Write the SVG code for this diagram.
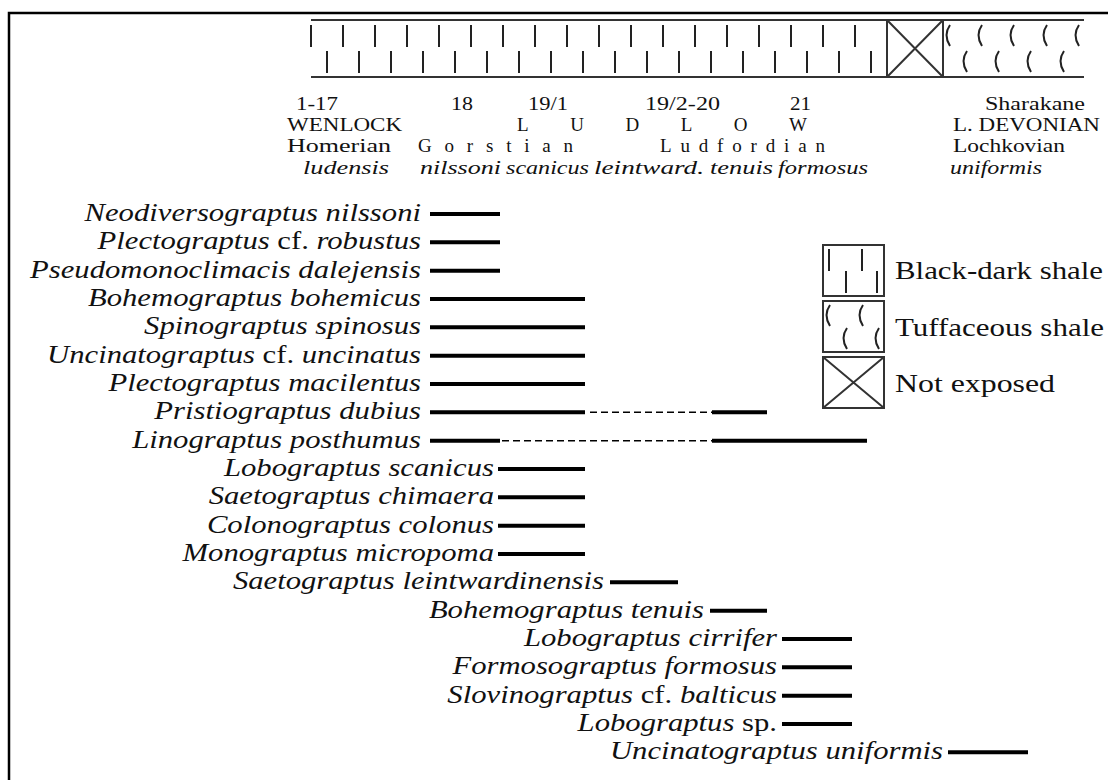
<svg xmlns="http://www.w3.org/2000/svg" width="1108" height="780" viewBox="0 0 1108 780">
<style>
.fr{stroke:#000;stroke-width:2.5;fill:none}
.bl{stroke:#333;stroke-width:2;fill:none}
.tk{stroke:#222;stroke-width:2;fill:none}
.hd{font-family:"Liberation Serif","Times New Roman",serif;font-size:19px;fill:#111}
.hi{font-family:"Liberation Serif","Times New Roman",serif;font-size:19px;font-style:italic;fill:#111}
.sp{font-family:"Liberation Serif","Times New Roman",serif;font-size:26px;font-style:italic;fill:#111;text-anchor:end}
.rm{font-style:normal}
.lg{font-family:"Liberation Serif","Times New Roman",serif;font-size:25px;fill:#111}
.r{stroke:#000;stroke-width:4;fill:none}
.d{stroke:#000;stroke-width:1.5;stroke-dasharray:7 4;fill:none}
</style>
<defs>
<path id="tb" d="M0,0 V22" class="tk"/>
<path id="tf" d="M4,0 Q-3,10 4,21" class="tk"/>
</defs>
<rect width="1108" height="780" fill="#fff"/>
<g id="frame">
<path class="fr" d="M9,780 V13 H1108"/>
</g>
<g id="column">
<path class="bl" d="M311,20 H1084 M311,77 H1084"/>
<g id="black-shale">
<use href="#tb" x="311" y="25"/><use href="#tb" x="343" y="25"/><use href="#tb" x="375" y="25"/><use href="#tb" x="407" y="25"/><use href="#tb" x="439" y="25"/><use href="#tb" x="471" y="25"/><use href="#tb" x="503" y="25"/><use href="#tb" x="535" y="25"/><use href="#tb" x="567" y="25"/><use href="#tb" x="599" y="25"/><use href="#tb" x="631" y="25"/><use href="#tb" x="663" y="25"/><use href="#tb" x="695" y="25"/><use href="#tb" x="727" y="25"/><use href="#tb" x="759" y="25"/><use href="#tb" x="791" y="25"/><use href="#tb" x="823" y="25"/><use href="#tb" x="855" y="25"/>
<use href="#tb" x="327" y="51"/><use href="#tb" x="359" y="51"/><use href="#tb" x="391" y="51"/><use href="#tb" x="423" y="51"/><use href="#tb" x="455" y="51"/><use href="#tb" x="487" y="51"/><use href="#tb" x="519" y="51"/><use href="#tb" x="551" y="51"/><use href="#tb" x="583" y="51"/><use href="#tb" x="615" y="51"/><use href="#tb" x="647" y="51"/><use href="#tb" x="679" y="51"/><use href="#tb" x="711" y="51"/><use href="#tb" x="743" y="51"/><use href="#tb" x="775" y="51"/><use href="#tb" x="807" y="51"/><use href="#tb" x="839" y="51"/><use href="#tb" x="871" y="51"/>
</g>
<g id="not-exposed">
<rect class="bl" x="887" y="20" width="56" height="57"/>
<path class="bl" d="M887,20 L943,77 M943,20 L887,77"/>
</g>
<g id="tuff">
<use href="#tf" x="946" y="25"/><use href="#tf" x="978" y="25"/><use href="#tf" x="1010" y="25"/><use href="#tf" x="1043" y="25"/><use href="#tf" x="1075" y="25"/>
<use href="#tf" x="963" y="51"/><use href="#tf" x="995" y="51"/><use href="#tf" x="1027" y="51"/><use href="#tf" x="1060" y="51"/>
</g>
</g>
<g id="header">
<text class="hd" x="296" y="110" textLength="42" lengthAdjust="spacingAndGlyphs">1-17</text>
<text class="hd" x="451" y="110" textLength="22" lengthAdjust="spacingAndGlyphs">18</text>
<text class="hd" x="528" y="110" textLength="40" lengthAdjust="spacingAndGlyphs">19/1</text>
<text class="hd" x="645" y="110" textLength="75" lengthAdjust="spacingAndGlyphs">19/2-20</text>
<text class="hd" x="790" y="110" textLength="21" lengthAdjust="spacingAndGlyphs">21</text>
<text class="hd" x="985" y="110" textLength="100" lengthAdjust="spacingAndGlyphs">Sharakane</text>
<text class="hd" x="287" y="131" textLength="115" lengthAdjust="spacingAndGlyphs">WENLOCK</text>
<text class="hd" x="517" y="131" textLength="290" lengthAdjust="spacing">LUDLOW</text>
<text class="hd" x="953" y="131" textLength="147" lengthAdjust="spacingAndGlyphs">L. DEVONIAN</text>
<text class="hd" x="287" y="152" textLength="104" lengthAdjust="spacingAndGlyphs">Homerian</text>
<text class="hd" x="418" y="152" textLength="155" lengthAdjust="spacing">Gorstian</text>
<text class="hd" x="660" y="152" textLength="165" lengthAdjust="spacing">Ludfordian</text>
<text class="hd" x="953" y="152" textLength="112" lengthAdjust="spacingAndGlyphs">Lochkovian</text>
<text class="hi" x="303" y="174" textLength="86" lengthAdjust="spacingAndGlyphs">ludensis</text>
<text class="hi" x="420" y="174" textLength="81" lengthAdjust="spacingAndGlyphs">nilssoni</text>
<text class="hi" x="506" y="174" textLength="83" lengthAdjust="spacingAndGlyphs">scanicus</text>
<text class="hi" x="594" y="174" textLength="110" lengthAdjust="spacingAndGlyphs">leintward.</text>
<text class="hi" x="710" y="174" textLength="63" lengthAdjust="spacingAndGlyphs">tenuis</text>
<text class="hi" x="778" y="174" textLength="90" lengthAdjust="spacingAndGlyphs">formosus</text>
<text class="hi" x="950" y="174" textLength="92" lengthAdjust="spacingAndGlyphs">uniformis</text>
</g>
<g id="legend">
<g id="legend-black">
<rect class="bl" x="823" y="245" width="61" height="51"/>
<use href="#tb" x="829" y="249"/><use href="#tb" x="862" y="249"/>
<use href="#tb" x="846" y="271"/><use href="#tb" x="877" y="271"/>
<text class="lg" x="895" y="279" textLength="208" lengthAdjust="spacingAndGlyphs">Black-dark shale</text>
</g>
<g id="legend-tuff">
<rect class="bl" x="823" y="301" width="61" height="51"/>
<use href="#tf" x="826" y="305"/><use href="#tf" x="859" y="305"/>
<use href="#tf" x="843" y="328"/><use href="#tf" x="875" y="328"/>
<text class="lg" x="895" y="336" textLength="209" lengthAdjust="spacingAndGlyphs">Tuffaceous shale</text>
</g>
<g id="legend-not-exposed">
<rect class="bl" x="823" y="357" width="61" height="51"/>
<path class="bl" d="M823,357 L884,408 M884,357 L823,408"/>
<text class="lg" x="895" y="392" textLength="160" lengthAdjust="spacingAndGlyphs">Not exposed</text>
</g>
</g>
<g id="taxa">
<g id="t01"><text class="sp" transform="translate(421,221) scale(1.18,1)">Neodiversograptus nilssoni</text><path class="r" d="M430,214 H500"/></g>
<g id="t02"><text class="sp" transform="translate(421,249.3) scale(1.18,1)">Plectograptus <tspan class="rm">cf.</tspan> robustus</text><path class="r" d="M430,242.3 H500"/></g>
<g id="t03"><text class="sp" transform="translate(421,277.7) scale(1.18,1)">Pseudomonoclimacis dalejensis</text><path class="r" d="M430,270.7 H500"/></g>
<g id="t04"><text class="sp" transform="translate(421,306) scale(1.18,1)">Bohemograptus bohemicus</text><path class="r" d="M430,299 H585"/></g>
<g id="t05"><text class="sp" transform="translate(421,334.3) scale(1.18,1)">Spinograptus spinosus</text><path class="r" d="M430,327.3 H585"/></g>
<g id="t06"><text class="sp" transform="translate(421,362.7) scale(1.18,1)">Uncinatograptus <tspan class="rm">cf.</tspan> uncinatus</text><path class="r" d="M430,355.7 H585"/></g>
<g id="t07"><text class="sp" transform="translate(421,391) scale(1.18,1)">Plectograptus macilentus</text><path class="r" d="M430,384 H585"/></g>
<g id="t08"><text class="sp" transform="translate(421,419.3) scale(1.18,1)">Pristiograptus dubius</text><path class="r" d="M430,412.3 H585 M712,412.3 H767"/><path class="d" d="M590,412.3 H712"/></g>
<g id="t09"><text class="sp" transform="translate(421,447.7) scale(1.18,1)">Linograptus posthumus</text><path class="r" d="M430,440.7 H500 M712,440.7 H867"/><path class="d" d="M502,440.7 H712"/></g>
<g id="t10"><text class="sp" transform="translate(494,476) scale(1.18,1)">Lobograptus scanicus</text><path class="r" d="M498,469 H585"/></g>
<g id="t11"><text class="sp" transform="translate(494,504.3) scale(1.18,1)">Saetograptus chimaera</text><path class="r" d="M498,497.3 H585"/></g>
<g id="t12"><text class="sp" transform="translate(494,532.7) scale(1.18,1)">Colonograptus colonus</text><path class="r" d="M498,525.7 H585"/></g>
<g id="t13"><text class="sp" transform="translate(494,561) scale(1.18,1)">Monograptus micropoma</text><path class="r" d="M498,554 H585"/></g>
<g id="t14"><text class="sp" transform="translate(604,589.3) scale(1.18,1)">Saetograptus leintwardinensis</text><path class="r" d="M610,582.3 H678"/></g>
<g id="t15"><text class="sp" transform="translate(704,617.7) scale(1.18,1)">Bohemograptus tenuis</text><path class="r" d="M710,610.7 H767"/></g>
<g id="t16"><text class="sp" transform="translate(777,646) scale(1.18,1)">Lobograptus cirrifer</text><path class="r" d="M782,639 H852"/></g>
<g id="t17"><text class="sp" transform="translate(777,674.3) scale(1.18,1)">Formosograptus formosus</text><path class="r" d="M782,667.3 H852"/></g>
<g id="t18"><text class="sp" transform="translate(777,702.7) scale(1.18,1)">Slovinograptus <tspan class="rm">cf.</tspan> balticus</text><path class="r" d="M782,695.7 H852"/></g>
<g id="t19"><text class="sp" transform="translate(777,731) scale(1.18,1)">Lobograptus <tspan class="rm">sp.</tspan></text><path class="r" d="M782,724 H852"/></g>
<g id="t20"><text class="sp" transform="translate(943,759.3) scale(1.18,1)">Uncinatograptus uniformis</text><path class="r" d="M948,752.3 H1028"/></g>
</g>
</svg>
